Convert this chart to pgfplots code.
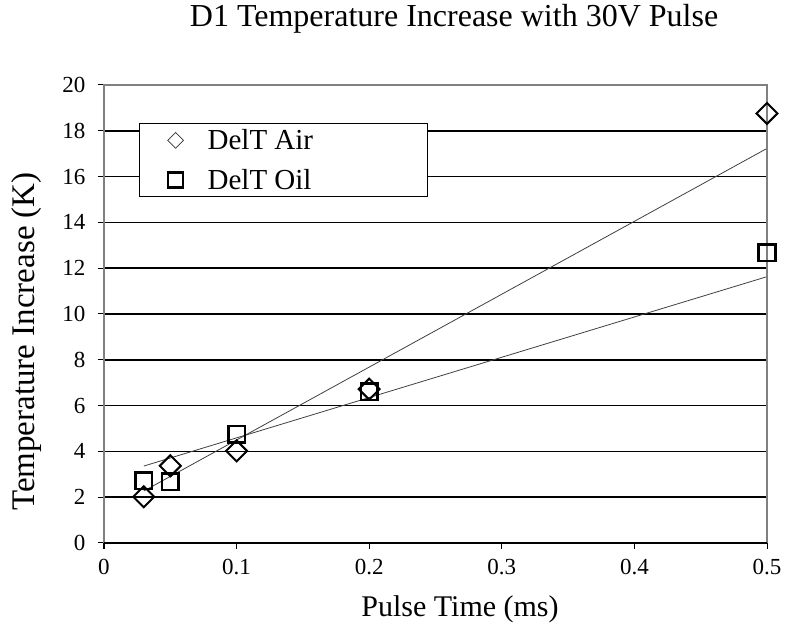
\documentclass[border=0pt]{standalone}
\usepackage{fontspec}
\setmainfont{Liberation Serif}
\usepackage{pgfplots}
\pgfplotsset{compat=1.18}
\begin{document}
\begin{tikzpicture}
\begin{axis}[
  scale only axis,
  width=663pt, height=458pt,
  anchor=south west, at={(104pt,88pt)},
  xmin=0, xmax=0.5, ymin=0, ymax=20,
  xtick={0,0.1,0.2,0.3,0.4,0.5},
  ytick={0,2,...,20},
  xticklabels={0,0.1,0.2,0.3,0.4,0.5},
  axis line style={draw=none},
  tick align=outside,
  xtick pos=bottom, ytick pos=left,
  major tick length=6pt,
  tick style={black, line width=1pt},
  ymajorgrids,
  grid style={black, line width=1.6pt},
  /pgf/number format/assume math mode=true,
  ticklabel style={font=\fontsize{23}{23}\selectfont},
  xticklabel style={yshift=-7pt},
  yticklabel style={xshift=-9pt},
  xlabel={Pulse Time (ms)},
  ylabel={Temperature Increase (K)},
  xlabel style={font=\fontsize{30}{30}\selectfont, at={(axis description cs:0.537,0)}, anchor=center, yshift=-66pt},
  ylabel style={font=\fontsize{33}{33}\selectfont, at={(axis description cs:0,0.44)}, anchor=center, rotate=0, yshift=77pt},
  title={D1 Temperature Increase with 30V Pulse},
  title style={font=\fontsize{32}{32}\selectfont, at={(axis description cs:0.528,1)}, anchor=center, yshift=60pt},
  clip=false,
  legend style={at={(axis description cs:0.053,0.917)}, anchor=north west,
    draw=black, line width=1pt, fill=white, inner xsep=12pt, inner ysep=4pt,
    font=\fontsize{29}{29}\selectfont, row sep=14pt},
  legend cell align=left,
]
% trend lines
\addplot[forget plot, black!75, line width=0.8pt] coordinates {(0.03,2.27) (0.5,17.23)};
\addplot[forget plot, black!75, line width=0.8pt] coordinates {(0.03,3.36) (0.5,11.63)};
% Air
\addplot[only marks, mark=square, mark size=7.4pt,
  mark options={rotate=45, black, line width=2pt},
  legend image code/.code={\path[draw=none] (0pt,0pt) -- (54pt,0pt); \draw[black!80, line width=0.7pt] plot[mark=square, mark size=5.6pt, mark options={rotate=45}] coordinates {(24pt,0pt)};}]
  coordinates {(0.03,2.02) (0.05,3.37) (0.1,4.02) (0.2,6.72) (0.5,18.76)};
\addlegendentry{\makebox[206pt][l]{DelT Air}}
% Oil
\addplot[only marks, mark=square, mark size=8.3pt,
  mark options={black, line width=2.5pt},
  legend image code/.code={\path[draw=none] (0pt,0pt) -- (54pt,0pt); \draw[black, line width=0.8pt] plot[mark=square, mark size=7.5pt] coordinates {(24pt,0pt)};}]
  coordinates {(0.03,2.71) (0.05,2.68) (0.1,4.75) (0.2,6.6) (0.5,12.68)};
\addlegendentry{\makebox[206pt][l]{DelT Oil}}
\draw[gray, line width=1.6pt] (rel axis cs:0,0) -- (rel axis cs:0,1) -- (rel axis cs:1,1) -- (rel axis cs:1,0);
\draw[black, line width=2.2pt] (rel axis cs:0,0) -- (rel axis cs:1,0);
\end{axis}
\pgfresetboundingbox
\path[use as bounding box] (0,0) rectangle (786pt,631pt);
\end{tikzpicture}
\end{document}
